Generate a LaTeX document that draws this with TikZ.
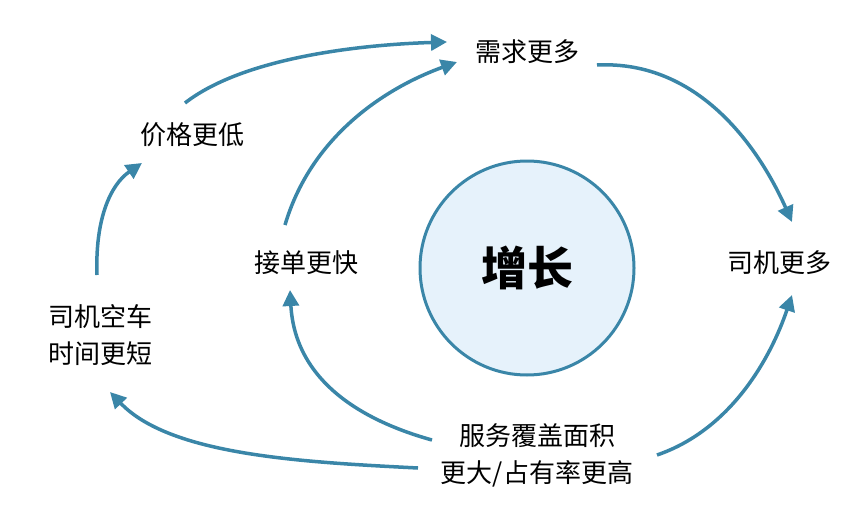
\documentclass[tikz,border=0pt]{standalone}
\usepackage{fontspec}
\setmainfont{Noto Sans CJK SC}
\usetikzlibrary{arrows.meta}
\definecolor{arr}{HTML}{3A86A8}
\definecolor{cfill}{HTML}{E6F2FB}
\begin{document}
\begin{tikzpicture}[x=1pt,y=-1pt,
  lab/.style={font=\fontsize{26}{37}\selectfont,align=center,inner sep=2pt},
  link/.style={draw=arr,line width=3.5pt,-{Triangle[length=16pt,width=16pt]}}]
\useasboundingbox (0,0) rectangle (865,530);
\node[circle,draw=arr,line width=3pt,fill=cfill,minimum size=214pt] (g) at (527,268) {};
\node[font=\fontsize{46}{50}\selectfont\bfseries] at (g) {增长};
\node[lab] (d) at (527,52) {需求更多};
\node[lab] (p) at (192,135) {价格更低};
\node[lab] (j) at (306,263) {接单更快};
\node[lab] (s) at (779,263) {司机更多};
\node[lab] (k) at (100,335) {司机空车\\时间更短};
\node[lab] (f) at (537,455) {服务覆盖面积\\更大/占有率更高};
\coordinate (a1) at (185,103); \coordinate (b1) at (447,42);
\draw[link] (a1) .. controls (240,60) and (350,45) .. (b1);
\coordinate (a2) at (285,225); \coordinate (b2) at (457,62);
\draw[link] (a2) .. controls (310,140) and (380,90) .. (b2);
\coordinate (a3) at (597,65); \coordinate (b3) at (792,222);
\draw[link] (a3) .. controls (700,60) and (760,150) .. (b3);
\coordinate (a4) at (97,275); \coordinate (b4) at (142,163);
\draw[link] (a4) .. controls (95,220) and (110,185) .. (b4);
\coordinate (a5) at (418,468); \coordinate (b5) at (110,392);
\draw[link] (a5) .. controls (300,462) and (170,455) .. (b5);
\coordinate (a6) at (432,440); \coordinate (b6) at (290,290);
\draw[link] (a6) .. controls (360,420) and (295,380) .. (b6);
\coordinate (a7) at (657,455); \coordinate (b7) at (792,295);
\draw[link] (a7) .. controls (730,430) and (770,360) .. (b7);
\end{tikzpicture}
\end{document}
